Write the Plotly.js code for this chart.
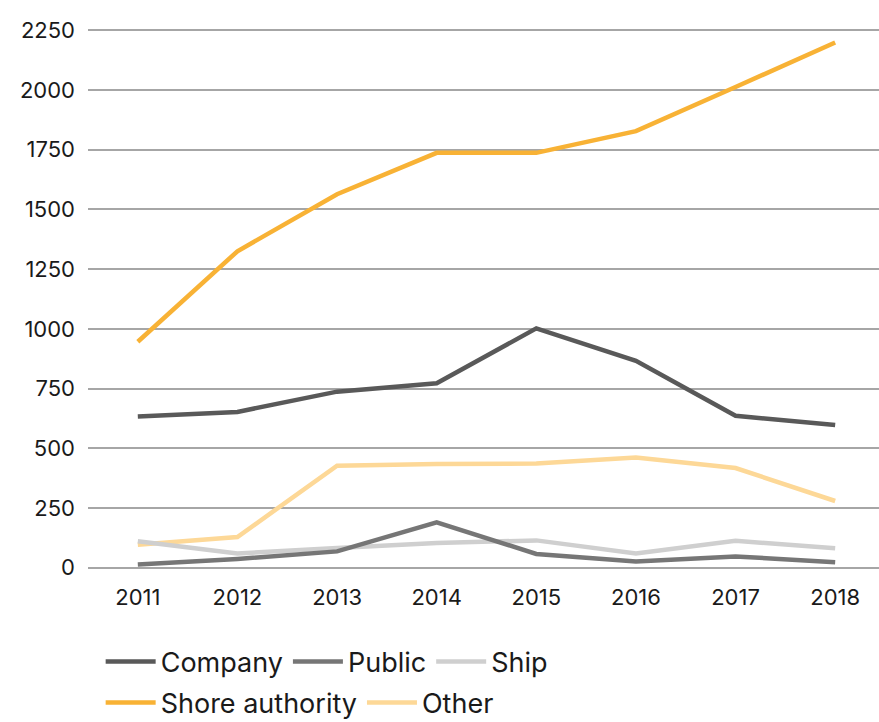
<!DOCTYPE html>
<html>
<head>
<meta charset="utf-8">
<script src="https://cdn.plot.ly/plotly-3.0.1.min.js"></script>
<style>html,body{margin:0;padding:0;background:#fff;}#chart{width:879px;height:722px;}</style>
</head>
<body>
<div id="chart"></div>
<script>
var years = ['2011','2012','2013','2014','2015','2016','2017','2018'];
var company = [633, 652, 737, 772, 1002, 866, 636, 597];
var publicVals = [13, 36, 68, 190, 57, 26, 47, 22];
var ship = [110, 59, 82, 103, 114, 59, 112, 81];
var shoreAuthority = [946, 1325, 1564, 1737, 1737, 1828, 2013, 2199];
var other = [96, 128, 427, 434, 436, 461, 417, 279];
var yTicks = [0, 250, 500, 750, 1000, 1250, 1500, 1750, 2000, 2250];

var seriesNames = ['Company', 'Public', 'Ship', 'Shore authority', 'Other'];
var seriesData = [company, publicVals, ship, shoreAuthority, other];
var seriesColors = ['#595959', '#767676', '#cfcfcf', '#f8b235', '#fdd897'];
var seriesLegend = ['legend', 'legend', 'legend', 'legend2', 'legend2'];

var traces = seriesNames.map(function (n, i) {
  return {
    type: 'scatter', mode: 'lines', name: n, x: years, y: seriesData[i],
    line: {color: seriesColors[i], width: 4.5},
    legend: seriesLegend[i], legendrank: i + 1, hoverinfo: 'skip'
  };
});
// draw order: light ones beneath darker ones
var order = [4, 2, 1, 0, 3];
traces = order.map(function (i) { return traces[i]; });

var fontFam = 'Inter, "DejaVu Sans", sans-serif';
var layout = {
  width: 879, height: 722,
  margin: {l: 88, r: 0, t: 28, b: 152, autoexpand: false},
  paper_bgcolor: '#fff', plot_bgcolor: '#fff',
  font: {family: fontFam, color: '#1a1a1a', size: 22},
  xaxis: {
    type: 'category', range: [-0.5, 7.44], showgrid: false, zeroline: false,
    showline: false, ticks: '', tickfont: {size: 22, family: fontFam},
    ticklabelstandoff: 12, fixedrange: true, automargin: false
  },
  yaxis: {
    range: [-10, 2260], tickvals: yTicks, ticktext: yTicks.map(String),
    showgrid: true, gridcolor: '#a6a6a6', gridwidth: 2,
    zeroline: true, zerolinecolor: '#a6a6a6', zerolinewidth: 2,
    showline: false, ticks: '', tickfont: {size: 22, family: fontFam},
    ticklabelstandoff: 12, fixedrange: true, automargin: false
  },
  showlegend: true,
  legend: {
    orientation: 'h', x: 0.016, xanchor: 'left', y: -0.1697, yanchor: 'middle',
    font: {size: 27, family: fontFam, color: '#1a1a1a'}, itemwidth: 50,
    traceorder: 'normal', bgcolor: 'rgba(0,0,0,0)'
  },
  legend2: {
    orientation: 'h', x: 0.016, xanchor: 'left', y: -0.2454, yanchor: 'middle',
    font: {size: 27, family: fontFam, color: '#1a1a1a'}, itemwidth: 50,
    traceorder: 'normal', bgcolor: 'rgba(0,0,0,0)'
  }
};
Plotly.newPlot('chart', traces, layout, {staticPlot: true, displayModeBar: false});
</script>
</body>
</html>
